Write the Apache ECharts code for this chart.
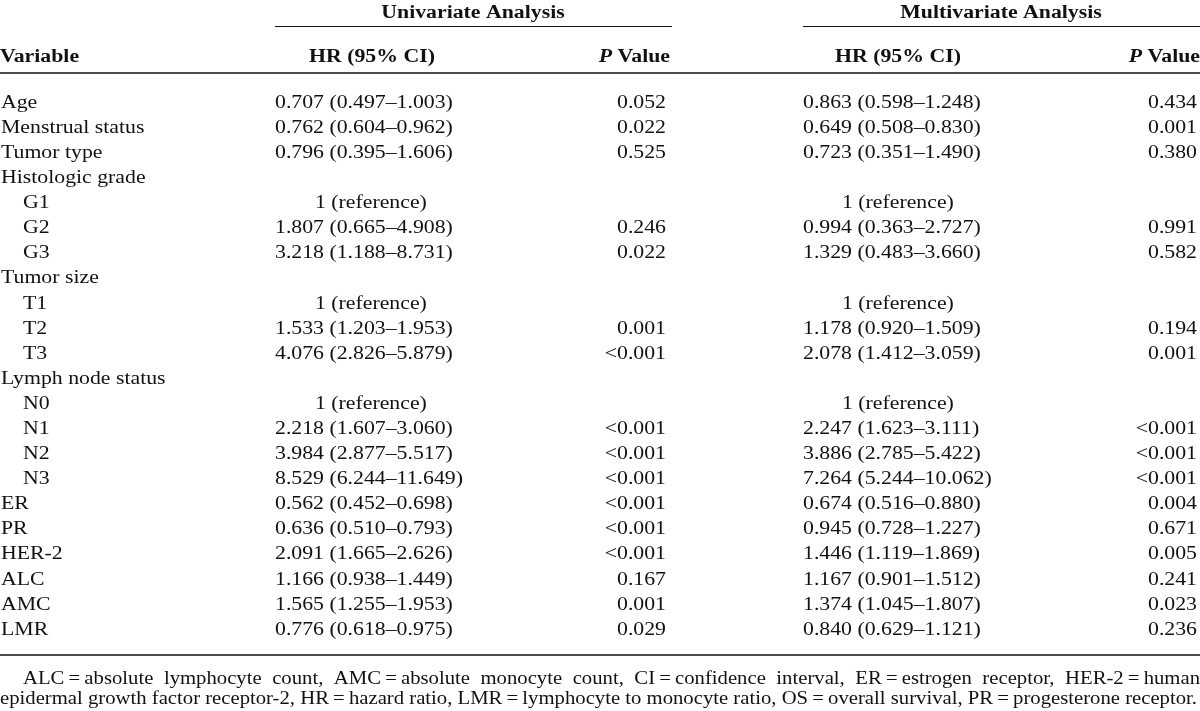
<!DOCTYPE html>
<html>
<head>
<meta charset="utf-8">
<script src="https://cdn.jsdelivr.net/npm/echarts@6/dist/echarts.min.js"></script>
<style>html,body{margin:0;padding:0;background:#fff;}#c{width:1200px;height:711px;}</style>
</head>
<body>
<div id="c"></div>
<script>
// ---- data ----
var variables = ["Age","Menstrual status","Tumor type","Histologic grade","G1","G2","G3","Tumor size","T1","T2","T3","Lymph node status","N0","N1","N2","N3","ER","PR","HER-2","ALC","AMC","LMR"];
var subItem = [0,0,0,0,1,1,1,0,1,1,1,0,1,1,1,1,0,0,0,0,0,0];
var uniHR = ["0.707 (0.497–1.003)","0.762 (0.604–0.962)","0.796 (0.395–1.606)","","1 (reference)","1.807 (0.665–4.908)","3.218 (1.188–8.731)","","1 (reference)","1.533 (1.203–1.953)","4.076 (2.826–5.879)","","1 (reference)","2.218 (1.607–3.060)","3.984 (2.877–5.517)","8.529 (6.244–11.649)","0.562 (0.452–0.698)","0.636 (0.510–0.793)","2.091 (1.665–2.626)","1.166 (0.938–1.449)","1.565 (1.255–1.953)","0.776 (0.618–0.975)"];
var uniP = ["0.052","0.022","0.525","","","0.246","0.022","","","0.001","<0.001","","","<0.001","<0.001","<0.001","<0.001","<0.001","<0.001","0.167","0.001","0.029"];
var multiHR = ["0.863 (0.598–1.248)","0.649 (0.508–0.830)","0.723 (0.351–1.490)","","1 (reference)","0.994 (0.363–2.727)","1.329 (0.483–3.660)","","1 (reference)","1.178 (0.920–1.509)","2.078 (1.412–3.059)","","1 (reference)","2.247 (1.623–3.111)","3.886 (2.785–5.422)","7.264 (5.244–10.062)","0.674 (0.516–0.880)","0.945 (0.728–1.227)","1.446 (1.119–1.869)","1.167 (0.901–1.512)","1.374 (1.045–1.807)","0.840 (0.629–1.121)"];
var multiP = ["0.434","0.001","0.380","","","0.991","0.582","","","0.194","0.001","","","<0.001","<0.001","<0.001","0.004","0.671","0.005","0.241","0.023","0.236"];
var groupHeaders = ["Univariate Analysis","Multivariate Analysis"];
var colHeaders = ["Variable","HR (95% CI)","Value"];
var footLine1 = "ALC\u2009=\u2009absolute lymphocyte count, AMC\u2009=\u2009absolute monocyte count, CI\u2009=\u2009confidence interval, ER\u2009=\u2009estrogen receptor, HER-2\u2009=\u2009human";
var footLine2 = "epidermal growth factor receptor-2, HR\u2009=\u2009hazard ratio, LMR\u2009=\u2009lymphocyte to monocyte ratio, OS\u2009=\u2009overall survival, PR\u2009=\u2009progesterone receptor.";

// ---- layout ----
var FS = 18;
var SX = 1.21;
var FAM = '"Liberation Serif","Times New Roman",serif';
var FONT = FS + 'px ' + FAM;
var BFONT = 'bold ' + FS + 'px ' + FAM;
var COL = '#111';

var chart = echarts.init(document.getElementById('c'), null, {renderer:'canvas'});

function textSeries(texts, xFn, align) {
  var data = texts.map(function(t, i){ return [xFn(i, t), i]; });
  return {
    type: 'custom',
    coordinateSystem: 'cartesian2d',
    data: data,
    silent: true,
    renderItem: function(params, api) {
      var t = texts[params.dataIndex];
      if (!t) return null;
      var p = api.coord([api.value(0), api.value(1)]);
      return {type:'text', x:p[0], y:p[1], scaleX:SX, style:{text:t, font:FONT, fill:COL, align:align, verticalAlign:'middle'}};
    }
  };
}

var ctx = document.createElement('canvas').getContext('2d');
ctx.font = FONT;
var footScale = 1197 / ctx.measureText(footLine2).width;
function justify(line, x0, x1, y, sc) {
  var words = line.split(' ');
  var total = 0;
  words.forEach(function(w){ total += ctx.measureText(w).width * sc; });
  var gap = (x1 - x0 - total) / (words.length - 1);
  var out = [], x = x0;
  words.forEach(function(w){
    out.push({type:'text', x:x, y:y, scaleX:sc, style:{text:w, font:FONT, fill:COL, align:'left', verticalAlign:'middle'}});
    x += ctx.measureText(w).width * sc + gap;
  });
  return out;
}

function hdr(txt, x, y, align) {
  return {type:'text', x:x, y:y, scaleX:SX, style:{text:txt, font:BFONT, fill:COL, align:align, verticalAlign:'middle',
    rich:{i:{font:'italic bold ' + FS + 'px ' + FAM, fill:COL}}}};
}

var graphics = [
  hdr(groupHeaders[0], 473, 13, 'center'),
  hdr(groupHeaders[1], 1001, 13, 'center'),
  {type:'line', shape:{x1:275, y1:26.5, x2:672, y2:26.5}, style:{stroke:COL, lineWidth:1.2}},
  {type:'line', shape:{x1:803, y1:26.5, x2:1200, y2:26.5}, style:{stroke:COL, lineWidth:1.2}},
  hdr(colHeaders[0], 0, 57, 'left'),
  hdr(colHeaders[1], 372, 57, 'center'),
  hdr(colHeaders[1], 898, 57, 'center'),
  hdr('{i|P} ' + colHeaders[2], 670, 57, 'right'),
  hdr('{i|P} ' + colHeaders[2], 1200, 57, 'right'),
  {type:'line', shape:{x1:0, y1:73, x2:1200, y2:73}, style:{stroke:COL, lineWidth:1.5}},
  {type:'line', shape:{x1:0, y1:655, x2:1200, y2:655}, style:{stroke:COL, lineWidth:1.5}}
];
graphics = graphics.concat(justify(footLine1, 23, 1200, 679, footScale));
graphics.push({type:'text', x:0, y:699, scaleX:footScale, style:{text:footLine2, font:FONT, fill:COL, align:'left', verticalAlign:'middle'}});

var option = {
  animation: false,
  backgroundColor: '#fff',
  grid: {left:0, right:0, top:90.5, height:552, containLabel:false},
  xAxis: {type:'value', min:0, max:1200, show:false},
  yAxis: {type:'category', data:variables, inverse:true, show:false},
  series: [
    textSeries(variables, function(i){ return subItem[i] ? 23 : 1; }, 'left'),
    textSeries(uniHR, function(i, t){ return t.indexOf('reference') >= 0 ? 315 : 275; }, 'left'),
    textSeries(uniP, function(){ return 666; }, 'right'),
    textSeries(multiHR, function(i, t){ return t.indexOf('reference') >= 0 ? 842 : 803; }, 'left'),
    textSeries(multiP, function(){ return 1197; }, 'right')
  ],
  graphic: graphics
};
chart.setOption(option);
</script>
</body>
</html>
